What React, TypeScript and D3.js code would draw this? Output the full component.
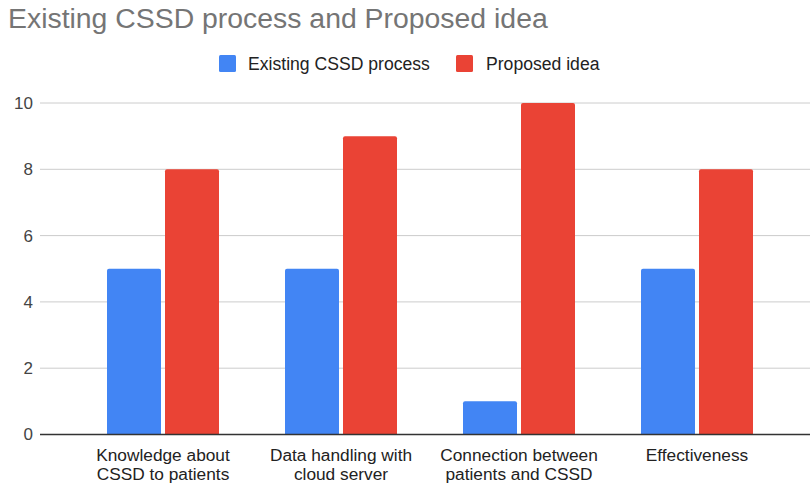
import React from "react";
import * as d3 from "d3";

const categories: string[][] = [
  ["Knowledge about", "CSSD to patients"],
  ["Data handling with", "cloud server"],
  ["Connection between", "patients and CSSD"],
  ["Effectiveness"],
];
const seriesNames = ["Existing CSSD process", "Proposed idea"];
const existingValues = [5, 5, 1, 5];
const proposedValues = [8, 9, 10, 8];
const yTicks = [0, 2, 4, 6, 8, 10];
const colors = ["#4285F4", "#EA4335"];

const W = 810;
const H = 484;
const FONT = "Arial, 'Liberation Sans', sans-serif";

function topRoundedBar(x: number, y: number, w: number, h: number, r: number) {
  const rr = Math.min(r, h / 2, w / 2);
  return `M${x},${y + h}V${y + rr}Q${x},${y} ${x + rr},${y}H${x + w - rr}Q${x + w},${y} ${x + w},${y + rr}V${y + h}Z`;
}

export default function App() {
  const keys = categories.map((c) => c.join(" "));
  const x0 = d3
    .scaleBand<string>()
    .domain(keys)
    .range([74, 786])
    .paddingInner(66 / 178)
    .paddingOuter(33 / 178);
  const x1 = d3
    .scaleBand<string>()
    .domain(seriesNames)
    .range([0, x0.bandwidth()])
    .paddingInner(0.069)
    .paddingOuter(0);
  const y = d3.scaleLinear().domain([0, 10]).range([434.5, 103]);
  const seriesValues = [existingValues, proposedValues];

  return (
    <svg width={W} height={H} style={{ position: "absolute", left: 0, top: 0, background: "#fff" }}>
      <rect x={0} y={0} width={W} height={H} fill="#fff" />
      <text x={8} y={28} fontFamily={FONT} fontSize={28.4} fill="#757575">
        Existing CSSD process and Proposed idea
      </text>
      {/* legend */}
      <g fontFamily={FONT} fontSize={17.6} fill="#222">
        <rect x={219} y={55} width={17} height={17} rx={1.5} fill={colors[0]} />
        <text x={248} y={70}>{seriesNames[0]}</text>
        <rect x={456} y={55} width={17} height={17} rx={1.5} fill={colors[1]} />
        <text x={486} y={70}>{seriesNames[1]}</text>
      </g>
      {/* gridlines */}
      {yTicks.map((t) =>
        t === 0 ? null : (
          <line key={t} x1={40} x2={W} y1={y(t)} y2={y(t)} stroke="#cccccc" strokeWidth={1} />
        )
      )}
      {/* y labels */}
      <g fontFamily={FONT} fontSize={17} fill="#444">
        {yTicks.map((t) => (
          <text key={t} x={33} y={y(t)} dy="0.35em" textAnchor="end">
            {t}
          </text>
        ))}
      </g>
      {/* bars */}
      {keys.map((k, i) => (
        <g key={k} transform={`translate(${x0(k)},0)`}>
          {seriesNames.map((s, j) => {
            const v = seriesValues[j][i];
            const bx = x1(s)!;
            const by = y(v);
            return (
              <path
                key={s}
                d={topRoundedBar(bx, by, x1.bandwidth(), y(0) - by, 2)}
                fill={colors[j]}
              />
            );
          })}
        </g>
      ))}
      {/* baseline */}
      <line x1={40} x2={W} y1={y(0)} y2={y(0)} stroke="#333" strokeWidth={1.3} />
      {/* x labels */}
      <g fontFamily={FONT} fontSize={17.3} fill="#222" textAnchor="middle">
        {categories.map((lines, i) => {
          const cx = x0(keys[i])! + x0.bandwidth() / 2;
          return (
            <text key={i} x={cx} y={461}>
              {lines.map((l, li) => (
                <tspan key={li} x={cx} y={461 + li * 18.5}>
                  {l}
                </tspan>
              ))}
            </text>
          );
        })}
      </g>
    </svg>
  );
}
